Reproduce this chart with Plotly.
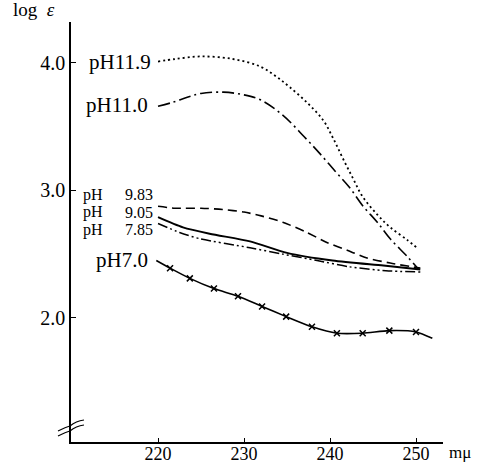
import plotly.graph_objects as go

# wavelength (m\u03bc) and log epsilon values
wl_119 = [220, 222, 225, 228.7, 231.9, 233.8, 235.3, 237.3, 239.2, 240.35, 241.5, 242.7, 243.8, 245.5, 247.0, 249.0, 250.1]
le_119 = [4.01, 4.03, 4.05, 4.03, 3.97, 3.89, 3.81, 3.69, 3.55, 3.41, 3.25, 3.09, 2.95, 2.81, 2.71, 2.61, 2.55]

wl_110 = [220, 221.7, 223.4, 225.0, 227.6, 229.9, 231.9, 234.5, 237.0, 238.8, 240.6, 242.3, 243.8, 245.5, 247.0, 249.0, 250.3]
le_110 = [3.66, 3.69, 3.73, 3.76, 3.77, 3.75, 3.71, 3.59, 3.42, 3.29, 3.15, 3.02, 2.88, 2.75, 2.62, 2.48, 2.38]

wl_983 = [220, 222, 225, 227.5, 230, 232, 234.5, 237, 239.7, 242, 244.3, 247, 250.5]
le_983 = [2.875, 2.86, 2.86, 2.85, 2.83, 2.80, 2.75, 2.68, 2.59, 2.53, 2.47, 2.43, 2.39]

wl_905 = [220, 222.9, 226, 230.7, 235, 240.3, 246.2, 250.5]
le_905 = [2.79, 2.71, 2.66, 2.60, 2.51, 2.45, 2.41, 2.38]

wl_785 = [220, 222.5, 224.9, 230.7, 234.5, 238.5, 242.3, 246.5, 250.5]
le_785 = [2.74, 2.67, 2.62, 2.55, 2.50, 2.45, 2.40, 2.37, 2.36]

wl_70 = [219.8, 221.4, 223.7, 226.5, 229.3, 232.1, 234.9, 237.9, 240.8, 243.8, 246.9, 250.0, 251.9]
le_70 = [2.45, 2.39, 2.31, 2.23, 2.17, 2.09, 2.01, 1.93, 1.88, 1.88, 1.90, 1.89, 1.84]

x_ticks = [220, 230, 240, 250]
x_tick_labels = ["220", "230", "240", "250"]
y_ticks = [2.0, 3.0, 4.0]
y_tick_labels = ["2.0", "3.0", "4.0"]

labels_big = [("pH11.9", 219.45, 4.01), ("pH11.0", 219.1, 3.67), ("pH7.0", 219.1, 2.455)]
labels_small = [("9.83", 2.965), ("9.05", 2.83), ("7.85", 2.69)]

FONT = "Liberation Serif, Times New Roman, serif"
fig = go.Figure()

def add(x, y, dash, width=1.6, smoothing=0.7):
    fig.add_trace(go.Scatter(x=x, y=y, mode="lines",
                             line=dict(color="black", width=width, dash=dash, shape="spline", smoothing=smoothing),
                             hoverinfo="skip", showlegend=False))

add(wl_119, le_119, "2px,3px", 1.8, 1.0)
add(wl_110, le_110, "12px,4px,2px,4px", 1.6, 1.0)
add(wl_983, le_983, "9px,5px")
add(wl_905, le_905, "solid", 2.0)
add(wl_785, le_785, "10px,3px,2px,3px,2px,3px", 1.5)
add(wl_70, le_70, "solid", 1.6)
fig.add_trace(go.Scatter(x=wl_70[1:-1], y=le_70[1:-1], mode="markers",
                         marker=dict(symbol="x-thin", size=6, line=dict(color="black", width=1.5)),
                         hoverinfo="skip", showlegend=False))

for txt, x, y in labels_big:
    fig.add_annotation(x=x, y=y, xref="x", yref="y", text=txt, showarrow=False,
                       xanchor="right", yanchor="middle", font=dict(family=FONT, size=21, color="black"))
for num, y in labels_small:
    fig.add_annotation(x=211.1, y=y, xref="x", yref="y", text="pH", showarrow=False,
                       xanchor="left", yanchor="middle", font=dict(family=FONT, size=16, color="black"))
    fig.add_annotation(x=219.6, y=y, xref="x", yref="y", text=num, showarrow=False,
                       xanchor="right", yanchor="middle", font=dict(family=FONT, size=16, color="black"))

fig.add_annotation(x=-0.16, y=1.0, xref="paper", yref="paper", text="log  <i>\u03b5</i>", showarrow=False,
                   xanchor="left", yanchor="bottom", font=dict(family=FONT, size=19, color="black"))
fig.add_annotation(x=1.01, y=-0.024, xref="paper", yref="paper", text="m\u03bc", showarrow=False,
                   xanchor="left", yanchor="middle", font=dict(family=FONT, size=17, color="black"))

# axis break marks (paper coordinates: plot area 372 x 420 px, bottom edge at 442 px)
def px(xp):
    return (xp - 71) / 372.0

def py(yp):
    return (442 - yp) / 420.0

for d in (0, 5):
    fig.add_shape(type="path", xref="paper", yref="paper",
                  path=(f"M {px(58)},{py(431 + d)} Q {px(66)},{py(427 + d)} {px(70)},{py(426 + d)} "
                        f"Q {px(76)},{py(421 + d)} {px(84)},{py(420 + d)}"),
                  line=dict(color="black", width=1.2))

fig.update_layout(
    width=477, height=465,
    margin=dict(l=71, r=34, t=22, b=23),
    paper_bgcolor="white", plot_bgcolor="white",
    font=dict(family=FONT, size=20, color="black"),
    xaxis=dict(range=[209.88, 253.14], tickvals=x_ticks, ticktext=x_tick_labels,
               showgrid=False, zeroline=False, showline=True, linecolor="black", linewidth=1.5,
               ticks="inside", ticklen=4, tickcolor="black", automargin=False,
               ticklabelstandoff=-5, tickfont=dict(family=FONT, size=18)),
    yaxis=dict(range=[1.027, 4.32], tickvals=y_ticks, ticktext=y_tick_labels,
               showgrid=False, zeroline=False, showline=True, linecolor="black", linewidth=1.5,
               ticks="inside", ticklen=5, tickcolor="black", automargin=False,
               tickfont=dict(family=FONT, size=20)),
)
fig.write_html("out.html", config={"displayModeBar": False},
               post_script="document.body.style.margin='0';document.body.style.overflow='hidden';")
